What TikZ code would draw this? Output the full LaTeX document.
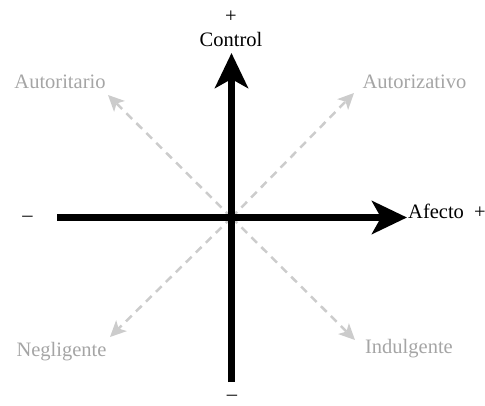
\documentclass[tikz,border=0pt]{standalone}
\usepackage{fontspec}
\setmainfont{Liberation Serif}
\usetikzlibrary{arrows.meta}
\definecolor{diaggray}{RGB}{204,204,204}
\definecolor{labelgray}{RGB}{165,165,165}
\tikzset{
  axis/.style={line width=7pt, -{Stealth[length=35pt,width=33pt,inset=9pt]}},
  diag/.style={line width=2.5pt, diaggray, dash pattern=on 8pt off 6pt, -{Stealth[length=16pt,width=15pt,inset=4pt]}},
  lbl/.style={font=\fontsize{20.5}{24}\selectfont, inner sep=0pt, anchor=base},
  glbl/.style={lbl, text=labelgray}
}
\begin{document}
\begin{tikzpicture}[x=1pt,y=1pt]
\useasboundingbox (0,0) rectangle (485,405);
\coordinate (O) at (231.5,187.5);
\coordinate (bottom) at (231.5,23);
\coordinate (top) at (231.5,352);
\coordinate (left) at (57,187.5);
\coordinate (right) at (407,187.5);
\coordinate (ne) at (354,312);
\coordinate (se) at (355,65);
\coordinate (nw) at (108,310);
\coordinate (sw) at (110,68);
\draw[diag] (O) -- (ne);
\draw[diag] (O) -- (se);
\draw[diag] (O) -- (nw);
\draw[diag] (O) -- (sw);
\draw[axis] (bottom) -- (top);
\draw[axis] (left) -- (right);
\node[lbl] (control) at (231,358) {Control};
\node[lbl] (ctrlplus) at (231,382) {+};
\node[lbl] (ctrlminus) at (232,5) {–};
\node[lbl] (afminus) at (27.5,183) {–};
\node[lbl, anchor=base west] (afecto) at (408,186) {Afecto};
\node[lbl] (afplus) at (480,186) {+};
\node[glbl] (autoritario) at (60,316) {Autoritario};
\node[glbl] (autorizativo) at (414.5,316) {Autorizativo};
\node[glbl] (negligente) at (61.5,49) {Negligente};
\node[glbl] (indulgente) at (409,52) {Indulgente};
\end{tikzpicture}
\end{document}
